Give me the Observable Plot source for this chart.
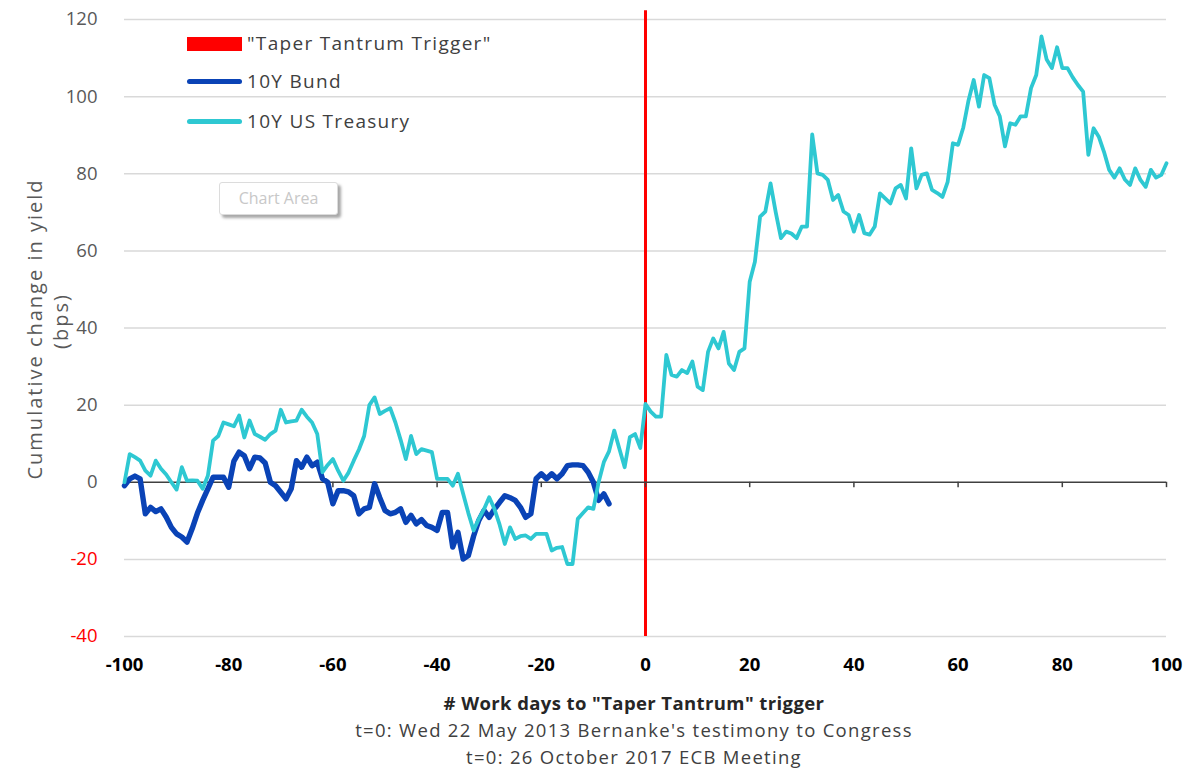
<!DOCTYPE html>
<html>
<head>
<meta charset="utf-8">
<script src="https://cdn.jsdelivr.net/npm/d3@7"></script>
<script src="https://cdn.jsdelivr.net/npm/@observablehq/plot@0.6"></script>
<style>
  html, body { margin: 0; padding: 0; background: #fff; }
  body { width: 1200px; height: 779px; position: relative; overflow: hidden; font-family: "Open Sans", sans-serif; }
  #chart { position: absolute; left: 0; top: 0; }
  #chart svg text.xlab { letter-spacing: 1px; }
  .legend { position: absolute; left: 187px; top: 34px; font-size: 19px; color: #404040; letter-spacing: 1.3px; }
  .legend .item { position: absolute; left: 0; height: 20px; white-space: nowrap; }
  .legend .sw { position: absolute; left: 0; width: 55px; }
  .legend .lbl { position: absolute; left: 60px; top: -3px; line-height: 25px; }
  .ytitle { position: absolute; font-size: 20px; letter-spacing: 2px; color: #595959; transform: translate(-50%, -50%) rotate(-90deg); white-space: nowrap; }
  .cap { position: absolute; left: 0; width: 1268px; text-align: center; color: #404040; font-size: 18.5px; letter-spacing: 1.3px; white-space: nowrap; }
  .tip { position: absolute; left: 219px; top: 182px; width: 117px; height: 31px; border: 1px solid #dcdcdc; border-radius: 3px; background: #fff;
         box-shadow: 3px 3px 3px rgba(0,0,0,0.35); color: #c8c8c8; font-size: 16px; line-height: 31px; text-align: center; }
</style>
</head>
<body>
<div id="chart"></div>
<script>
// ---- data ----
const xTicks = [-100, -80, -60, -40, -20, 0, 20, 40, 60, 80, 100];
const yTicks = [-40, -20, 0, 20, 40, 60, 80, 100, 120];

const treasuryDays = [
  -100,-99,-98,-97,-96,-95,-94,-93,-92,-91,-90,-89,-88,-87,-86,-85,-84,-83,-82,-81,
  -80,-79,-78,-77,-76,-75,-74,-73,-72,-71,-70,-69,-68,-67,-66,-65,-64,-63,-62,-61,
  -60,-59,-58,-57,-56,-55,-54,-53,-52,-51,-50,-49,-48,-47,-46,-45,-44,-43,-42,-41,
  -40,-39,-38,-37,-36,-35,-34,-33,-32,-31,-30,-29,-28,-27,-26,-25,-24,-23,-22,-21,
  -20,-19,-18,-17,-16,-15,-14,-13,-12,-11,-10,-9,-8,-7,-6,-5,-4,-3,-2,-1,
  0,1,2,3,4,5,6,7,8,9,10,11,12,13,14,15,16,17,18,19,
  20,21,22,23,24,25,26,27,28,29,30,31,32,33,34,35,36,37,38,39,
  40,41,42,43,44,45,46,47,48,49,50,51,52,53,54,55,56,57,58,59,
  60,61,62,63,64,65,66,67,68,69,70,71,72,73,74,75,76,77,78,79,
  80,81,82,83,84,85,86,87,88,89,90,91,92,93,94,95,96,97,98,99,100
];
const treasuryValues = [
  0,7.3,6.5,5.6,3.0,1.7,5.6,3.5,2.0,0,-1.9,3.9,0.4,0.5,0.4,-1.7,1.7,10.8,12,15.5,
  15,14.5,17.3,11.6,16,12.5,11.8,11,12.5,13.4,18.8,15.5,15.8,16,18.8,17,15.5,12.5,2.6,4.5,
  6,3,0.4,2.5,5.6,8.5,12,20,22,17.7,18.5,19.2,15.5,11,6,12,7.3,8.6,8.2,7.8,
  0.9,0.9,0.9,-0.9,2.2,-3,-8,-12.5,-9.5,-7,-3.9,-6.9,-11,-16,-11.7,-14.7,-14,-13.8,-14.7,-13.4,
  -13.4,-13.4,-17.7,-17,-16.8,-21.2,-21.2,-9.5,-8,-6.5,-6.9,0,5.2,8,13.4,8.6,3.9,11.7,12.5,8.9,
  20.3,18.3,17,17,33,27.8,27.4,29.1,28.3,31.3,24.8,23.9,33.8,37.3,34.7,39,30.8,29.1,33.8,34.7,
  52,57.2,68.9,70.2,77.5,70,63.3,65,64.5,63.3,66.3,66.3,90.2,80.1,79.7,78.4,73.2,74.5,70.2,69.3,
  65,69.3,64.6,64.2,66.3,74.9,73.6,72.3,76.2,77.1,73.6,86.6,76.2,79.7,80.1,75.8,75,74,77.9,87.9,
  87.5,92,99,104.3,97.4,105.6,104.8,97.9,94.9,87.1,93.1,92.7,94.9,94.9,102.2,105.6,115.6,109.6,107.4,112.8,
  107.4,107.4,105,103,101.3,84.9,91.8,89.6,85.7,81,79,81.4,78.5,77.1,81.4,78.4,76.6,81,79,79.7,82.7
];

const bundDays = [
  -100,-99,-98,-97,-96,-95,-94,-93,-92,-91,-90,-89,-88,-87,-86,-85,-84,-83,-82,-81,
  -80,-79,-78,-77,-76,-75,-74,-73,-72,-71,-70,-69,-68,-67,-66,-65,-64,-63,-62,-61,
  -60,-59,-58,-57,-56,-55,-54,-53,-52,-51,-50,-49,-48,-47,-46,-45,-44,-43,-42,-41,
  -40,-39,-38,-37,-36,-35,-34,-33,-32,-31,-30,-29,-28,-27,-26,-25,-24,-23,-22,-21,
  -20,-19,-18,-17,-16,-15,-14,-13,-12,-11,-10,-9,-8,-7
];
const bundValues = [
  -0.9,0.9,1.6,0.9,-8.2,-6.5,-7.6,-6.9,-9,-11.7,-13.4,-14.2,-15.5,-12,-8,-4.7,-1.7,1.3,1.3,1.3,
  -1.3,5.5,7.8,6.9,3.5,6.5,6.3,5,0,-0.9,-2.6,-4.3,-1.7,5.6,3.9,6.5,4.3,5.2,0.9,0,
  -5.6,-2.2,-2.2,-2.5,-3.5,-8.2,-6.9,-6.5,-0.4,-4,-7.3,-8.2,-7.8,-6.9,-10.4,-8.6,-10.8,-9.7,-11.2,-11.7,
  -12.5,-7.8,-7.8,-16.8,-13,-19.9,-19,-14,-9.9,-7.3,-9.1,-7,-5.2,-3.5,-4,-4.7,-6.5,-9.1,-8.2,0.9,
  2.2,0.9,2.2,0.9,2.2,4.3,4.5,4.5,4.3,2.6,0,-4.7,-3,-5.6
];

const seriesNames = ['"Taper Tantrum Trigger"', "10Y Bund", "10Y US Treasury"];
const seriesColors = ["#ff0000", "#0a43b6", "#2ec8d2"];
const yTitle = ["Cumulative change in yield", "(bps)"];
const captions = ['# Work days to "Taper Tantrum" trigger',
  "t=0: Wed 22 May 2013 Bernanke's testimony to Congress",
  "t=0: 26 October 2017 ECB Meeting"];
const triggerDay = [0];

// ---- build ----
const treasury = treasuryDays.map((d, i) => ({day: d, value: treasuryValues[i]}));
const bund = bundDays.map((d, i) => ({day: d, value: bundValues[i]}));

const chart = Plot.plot({
  width: 1200,
  height: 680,
  marginLeft: 124,
  marginRight: 34,
  marginTop: 19,
  marginBottom: 44,
  style: {fontFamily: "Open Sans, sans-serif", fontSize: "18.5px", background: "#fff"},
  x: {domain: [-100, 100], axis: null},
  y: {domain: [-40, 120], axis: null},
  marks: [
    Plot.ruleY(yTicks.filter(d => d !== 0), {y: d => d, stroke: "#d9d9d9", strokeWidth: 1.5}),
    Plot.ruleX(triggerDay, {x: d => d, y1: -40, y2: 122.3, stroke: seriesColors[0], strokeWidth: 3}),
    Plot.ruleY([0], {y: d => d, stroke: "#404040", strokeWidth: 1.6}),
    Plot.ruleX(xTicks, {x: d => d, y1: 0, y2: -1.4, stroke: "#404040", strokeWidth: 1.5}),
    Plot.line(bund, {x: "day", y: "value", stroke: seriesColors[1], strokeWidth: 5.4, strokeLinejoin: "round", strokeLinecap: "round"}),
    Plot.line(treasury, {x: "day", y: "value", stroke: seriesColors[2], strokeWidth: 3.8, strokeLinejoin: "round", strokeLinecap: "round"}),
    Plot.text(yTicks, {y: d => d, text: d => String(d), frameAnchor: "left", dx: -27, textAnchor: "end",
      fill: d => d < 0 ? "#ff0000" : "#595959", fontSize: 18.5}),
    Plot.text(xTicks, {x: d => d, text: d => String(d), frameAnchor: "bottom", dy: 34, className: "xlab",
      fill: "#000", fontWeight: "bold", fontSize: 18.5})
  ]
});
document.getElementById("chart").appendChild(chart);

// legend
const legend = document.createElement("div");
legend.className = "legend";
seriesNames.forEach((name, i) => {
  const item = document.createElement("div");
  item.className = "item";
  item.style.top = [0, 38, 78][i] + "px";
  const sw = document.createElement("div");
  sw.className = "sw";
  if (i === 0) { sw.style.top = "3px"; sw.style.height = "14px"; sw.style.background = seriesColors[0]; }
  else { sw.style.top = "7px"; sw.style.height = "5px"; sw.style.borderRadius = "3px"; sw.style.background = seriesColors[i]; }
  const lbl = document.createElement("div");
  lbl.className = "lbl";
  lbl.textContent = name;
  item.appendChild(sw); item.appendChild(lbl);
  legend.appendChild(item);
});
document.body.appendChild(legend);

// y title
[[33.5, 329], [60, 321]].forEach((p, i) => {
  const t = document.createElement("div");
  t.className = "ytitle";
  t.style.left = p[0] + "px";
  t.style.top = p[1] + "px";
  t.textContent = yTitle[i];
  document.body.appendChild(t);
});

// captions
captions.forEach((c, i) => {
  const d = document.createElement("div");
  d.className = "cap";
  d.style.top = [690, 717, 744][i] + "px";
  if (i === 0) { d.style.fontWeight = "bold"; d.style.color = "#262626"; d.style.letterSpacing = "0.4px"; }
  d.textContent = c;
  document.body.appendChild(d);
});

// Excel tooltip artifact
const tip = document.createElement("div");
tip.className = "tip";
tip.textContent = "Chart Area";
document.body.appendChild(tip);
</script>
</body>
</html>
